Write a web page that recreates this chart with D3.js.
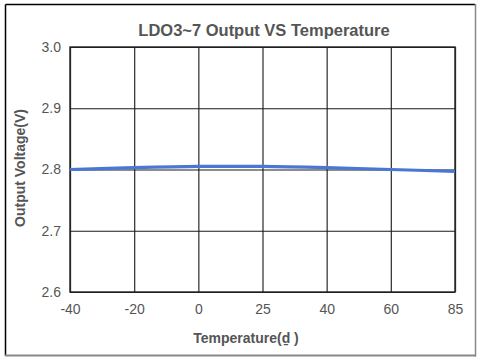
<!DOCTYPE html>
<html><head><meta charset="utf-8">
<script src="https://cdn.jsdelivr.net/npm/d3@7"></script>
<style>body{margin:0;background:#fff;}svg{display:block;font-family:"Liberation Sans",Arial,sans-serif;}</style>
</head><body>
<svg id="chart" width="483" height="363"></svg>
<script>
const categories = ["-40","-20","0","25","40","60","85"];
const voltage = [2.800, 2.803, 2.805, 2.805, 2.803, 2.800, 2.797];
const yTicks = [2.6, 2.7, 2.8, 2.9, 3.0];
const title = "LDO3~7 Output VS Temperature";
const xTitle = "Temperature(\u1E0F )";
const yTitle = "Output Voltage(V)";

const svg = d3.select("#chart");
const m = {left:70, right:455, top:47, bottom:292};

// outer frame
svg.append("line").attr("x1",5.5).attr("y1",4.5).attr("x2",475).attr("y2",4.5).attr("stroke","#000").attr("stroke-width",1.5);
svg.append("line").attr("x1",5.5).attr("y1",4.5).attr("x2",5.5).attr("y2",356).attr("stroke","#000").attr("stroke-width",1.5);
svg.append("line").attr("x1",475.5).attr("y1",4).attr("x2",475.5).attr("y2",356.5).attr("stroke","#888").attr("stroke-width",1.5);
svg.append("line").attr("x1",5).attr("y1",355.5).attr("x2",476).attr("y2",355.5).attr("stroke","#888").attr("stroke-width",2);

const x = d3.scalePoint().domain(categories).range([m.left, m.right]);
const y = d3.scaleLinear().domain([2.6, 3.0]).range([m.bottom, m.top]);

// vertical gridlines
const gx = svg.append("g").attr("transform",`translate(0,${m.bottom})`)
  .call(d3.axisBottom(x).tickSize(-(m.bottom-m.top)).tickPadding(12));
gx.select(".domain").remove();
gx.selectAll(".tick line").attr("stroke","#3a3a3a").attr("stroke-width",1.3);
gx.selectAll(".tick text").attr("fill","#555").attr("font-size","14px").attr("font-family","Liberation Sans, Arial, sans-serif");

// horizontal gridlines
const gy = svg.append("g").attr("transform",`translate(${m.left},0)`)
  .call(d3.axisLeft(y).tickValues(yTicks).tickFormat(d3.format(".1f")).tickSize(-(m.right-m.left)).tickPadding(9));
gy.select(".domain").remove();
gy.selectAll(".tick line").attr("stroke","#1a1a1a").attr("stroke-width",1.2);
gy.selectAll(".tick text").attr("fill","#555").attr("font-size","14px").attr("font-family","Liberation Sans, Arial, sans-serif");

// plot frame
svg.append("rect").attr("x",m.left).attr("y",m.top).attr("width",m.right-m.left).attr("height",m.bottom-m.top)
  .attr("fill","none").attr("stroke","#222").attr("stroke-width",1.4);

// series line
const line = d3.line().x((d,i)=>x(categories[i])).y(d=>y(d)).curve(d3.curveCatmullRom.alpha(0.5));
svg.append("path").datum(voltage).attr("d",line).attr("fill","none").attr("stroke","#4a77d4").attr("stroke-width",3.2);

// titles
svg.append("text").attr("x",264).attr("y",36).attr("text-anchor","middle").attr("font-size","16.5px").attr("font-weight","bold").attr("fill","#555").text(title);
svg.append("text").attr("x",246).attr("y",343).attr("text-anchor","middle").attr("font-size","14px").attr("font-weight","bold").attr("fill","#555").text(xTitle);
svg.append("text").attr("transform","translate(25,168) rotate(-90)").attr("text-anchor","middle").attr("font-size","14px").attr("font-weight","bold").attr("fill","#555").text(yTitle);
</script>
</body></html>
